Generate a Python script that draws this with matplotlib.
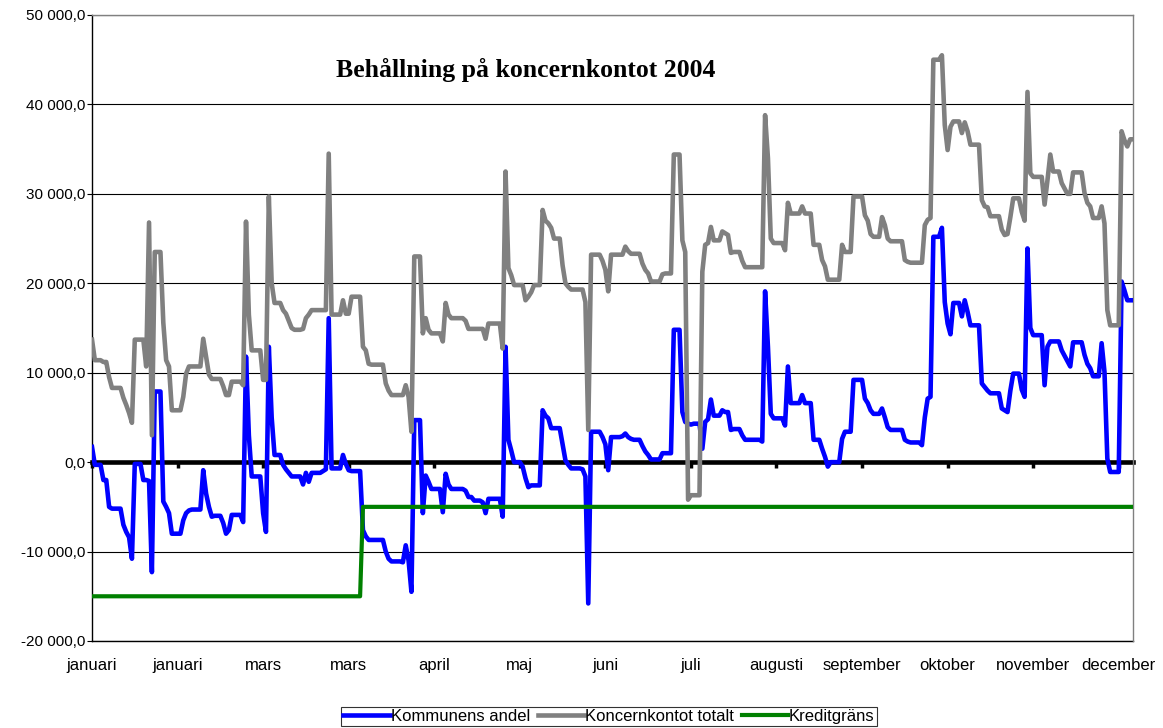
import numpy as np
import matplotlib
matplotlib.use('Agg')
import matplotlib.pyplot as plt
import matplotlib.ticker as mtick

plt.rcParams['font.family'] = ['Liberation Sans', 'DejaVu Sans']

# Daily balances 2004 (one value per day, Jan 1 - Dec 31)
kommun = [
    1700, -300, -300, -300,
    -2000, -2000, -5000, -5200, -5200, -5200, -5200,
    -7000, -7800, -8400, -10800, -200, -200, -200,
    -2000, -2000, -2100, -12300, 7900, 7900, 7900,
    -4400, -5000, -5700, -8000, -8000, -8000, -8000,
    -6500, -5700, -5400, -5300, -5300, -5300, -5300,
    -900, -3500, -5000, -6100, -6000, -6000, -6000,
    -6800, -8000, -7600, -5900, -5900, -5900, -5900,
    -6700, 11800, 3000, -1600, -1600, -1600, -1600,
    -5700, -7800, 12900, 5000, 800, 800, 800,
    -300, -800, -1200, -1600, -1600, -1600, -1600,
    -2500, -1200, -2200, -1200, -1200, -1200, -1200,
    -1000, -800, 16100, -700, -700, -700, -700,
    800, -200, -900, -1000, -1000, -1000, -1000,
    -7600, -8300, -8700, -8700, -8700, -8700, -8700,
    -8700, -10000, -10800, -11100, -11100, -11100, -11100,
    -11200, -9300, -11000, -14500, 4700, 4700, 4700,
    -5700, -1500, -2200, -3000, -3000, -3000, -3000,
    -5600, -1300, -2500, -3000, -3000, -3000, -3000,
    -3000, -3200, -3900, -3900, -4300, -4300, -4300,
    -4500, -5700, -4100, -4100, -4100, -4100, -4100,
    -6100, 12900, 2500, 1300, 0, 0, 0,
    -500, -1800, -2800, -2600, -2600, -2600, -2600,
    5800, 5200, 4900, 3800, 3800, 3800, 3800,
    2000, 200, -300, -700, -700, -700, -700,
    -800, -1600, -15800, 3400, 3400, 3400, 3400,
    2800, 2000, -900, 2800, 2800, 2800, 2800,
    2900, 3200, 2800, 2600, 2500, 2500, 2500,
    1800, 1200, 800, 300, 300, 300, 300,
    1000, 1000, 1000, 1000, 14800, 14800, 14800,
    5600, 4500, 4300, 4200, 4300, 4300, 4300,
    1500, 4500, 4800, 7000, 5200, 5200, 5200,
    5800, 5600, 5600, 3600, 3700, 3700, 3700,
    3000, 2500, 2500, 2500, 2500, 2500, 2500,
    2300, 19100, 12900, 5400, 4900, 4900, 4900,
    4900, 4100, 10700, 6600, 6600, 6600, 6600,
    7500, 6600, 6600, 6600, 2500, 2500, 2500,
    1500, 600, -500, 0, 0, 0, 0,
    2600, 3400, 3400, 3400, 9200, 9200, 9200,
    9200, 7100, 6600, 5800, 5400, 5400, 5400,
    6000, 5000, 3900, 3600, 3600, 3600, 3600,
    3600, 2500, 2300, 2200, 2200, 2200, 2200,
    1900, 5000, 7100, 7300, 25200, 25200, 25200,
    26200, 17900, 15500, 14300, 17800, 17800, 17800,
    16300, 18100, 16800, 15300, 15300, 15300, 15300,
    8800, 8400, 8000, 7700, 7700, 7700, 7700,
    6000, 5800, 5600, 8000, 9900, 9900, 9900,
    8100, 7300, 23900, 15000, 14200, 14200, 14200,
    14200, 8600, 12900, 13500, 13500, 13500, 13500,
    12500, 11900, 11300, 10700, 13400, 13400, 13400,
    13400, 12000, 11000, 10500, 9600, 9600, 9600,
    13300, 10100, 400, -1100, -1100, -1100, -1100,
    20200, 19200, 18100, 18100, 18100,
]

koncern = [
    13700, 11400, 11400, 11400,
    11200, 11200, 9500, 8300, 8300, 8300, 8300,
    7200, 6400, 5500, 4400, 13700, 13700, 13700,
    13700, 10700, 26800, 3000, 23500, 23500, 23500,
    15600, 11400, 10700, 5800, 5800, 5800, 5800,
    7300, 9900, 10700, 10700, 10700, 10700, 10700,
    13800, 11800, 9800, 9300, 9300, 9300, 9300,
    8500, 7500, 7500, 9000, 9000, 9000, 9000,
    8600, 26900, 16500, 12500, 12500, 12500, 12500,
    9200, 9200, 29700, 20000, 17800, 17800, 17800,
    17000, 16600, 15800, 15000, 14800, 14800, 14800,
    14900, 16100, 16500, 17000, 17000, 17000, 17000,
    17000, 17000, 34500, 16500, 16500, 16500, 16500,
    18100, 16600, 16600, 18500, 18500, 18500, 18500,
    12900, 12500, 11000, 10900, 10900, 10900, 10900,
    10900, 8800, 8000, 7500, 7500, 7500, 7500,
    7500, 8600, 7300, 3400, 23000, 23000, 23000,
    14400, 16100, 14800, 14400, 14400, 14400, 14400,
    13500, 17800, 16500, 16100, 16100, 16100, 16100,
    16100, 15800, 14900, 14900, 14900, 14900, 14900,
    14900, 13800, 15500, 15500, 15500, 15500, 15500,
    12700, 32500, 21700, 20900, 19800, 19800, 19800,
    19800, 18100, 18500, 19000, 19800, 19800, 19800,
    28200, 27000, 26700, 26200, 25000, 25000, 25000,
    22000, 20000, 19600, 19300, 19300, 19300, 19300,
    19300, 17900, 3600, 23200, 23200, 23200, 23200,
    22500, 21500, 19100, 23200, 23200, 23200, 23200,
    23200, 24100, 23600, 23300, 23300, 23300, 23300,
    22200, 21500, 21100, 20200, 20200, 20200, 20200,
    21000, 21100, 21100, 21100, 34400, 34400, 34400,
    24800, 23500, -4200, -3700, -3700, -3700, -3700,
    21300, 24300, 24500, 26300, 24800, 24800, 24800,
    25800, 25600, 25400, 23400, 23500, 23500, 23500,
    22500, 21800, 21800, 21800, 21800, 21800, 21800,
    21800, 38800, 34000, 25000, 24500, 24500, 24500,
    24500, 23700, 29000, 27800, 27800, 27800, 27800,
    28600, 27800, 27800, 27800, 24300, 24300, 24300,
    22600, 21900, 20400, 20400, 20400, 20400, 20400,
    24300, 23500, 23500, 23500, 29700, 29700, 29700,
    29700, 27600, 27000, 25500, 25200, 25200, 25200,
    27400, 26500, 25000, 24700, 24700, 24700, 24700,
    24700, 22600, 22400, 22300, 22300, 22300, 22300,
    22300, 26500, 27100, 27300, 45000, 45000, 45000,
    45500, 37700, 34900, 37500, 38100, 38100, 38100,
    36800, 38000, 37000, 35500, 35500, 35500, 35500,
    29300, 28600, 28500, 27500, 27500, 27500, 27500,
    26000, 25400, 25500, 27400, 29500, 29500, 29500,
    28000, 27000, 41400, 32300, 31900, 31900, 31900,
    31900, 28800, 31500, 34400, 32500, 32500, 32500,
    31200, 30600, 30000, 30000, 32400, 32400, 32400,
    32400, 30100, 29000, 28600, 27300, 27300, 27300,
    28600, 26700, 17000, 15300, 15300, 15300, 15300,
    37000, 36000, 35300, 36100, 36100,
]

kredit_days = [0, 94, 95, 365]
kredit = [-15000, -15000, -5000, -5000]

tick_days = [0, 30, 60, 90, 120, 150, 180, 210, 240, 270, 300, 330, 360]
tick_labels = ['januari', 'januari', 'mars', 'mars', 'april', 'maj', 'juni',
               'juli', 'augusti', 'september', 'oktober', 'november', 'december']

days = np.arange(len(kommun))

fig = plt.figure(figsize=(11.63, 7.28), dpi=100)
ax = fig.add_axes([92 / 1163, 1 - 641 / 728, 1041 / 1163, 626 / 728])

ax.plot(days, kommun, color='#0000ff', lw=3.3, zorder=3, label='Kommunens andel')
ax.plot(days, koncern, color='#808080', lw=3.3, zorder=4, label='Koncernkontot totalt')
ax.plot(kredit_days, kredit, color='#008000', lw=3.0, zorder=5, label='Kreditgräns')

ax.set_xlim(0, 365)
ax.set_ylim(-20000, 50000)
ax.yaxis.set_major_locator(mtick.MultipleLocator(10000))
ax.yaxis.set_major_formatter(mtick.FuncFormatter(
    lambda v, p: f'{v:,.1f}'.replace(',', ' ').replace('.', ',')))
ax.yaxis.grid(True, color='black', lw=0.8)
ax.tick_params(axis='y', direction='out', length=3.5, width=0.8, pad=1, labelsize=11)

# category axis crosses at zero
ax.spines['bottom'].set_position(('data', 0))
ax.spines['bottom'].set_linewidth(3.3)
ax.spines['bottom'].set_zorder(2)
ax.set_xticks(tick_days)
ax.tick_params(axis='x', direction='out', length=4, width=2.5, labelbottom=False)
ax.spines['left'].set_linewidth(1.0)
for s in ['top', 'right']:
    ax.spines[s].set_color('#808080')
    ax.spines[s].set_linewidth(1.0)

# labels sit at the bottom of the plot area
low = ax.secondary_xaxis('bottom')
low.set_xticks(tick_days)
low.set_xticklabels(tick_labels)
low.tick_params(length=0, pad=12, labelsize=12)
low.spines['bottom'].set_linewidth(1.0)

ax.text(0.417, 0.912, 'Behållning på koncernkontot 2004', transform=ax.transAxes,
        ha='center', va='center', fontsize=18.5, fontweight='bold',
        family='Liberation Serif')

leg = fig.legend(loc='upper center', bbox_to_anchor=(609 / 1163, 1 - 707 / 728),
                 ncol=3, fontsize=12, frameon=True, fancybox=False,
                 handlelength=2.8, handletextpad=0.05, columnspacing=0.45,
                 borderpad=0.12, borderaxespad=0)
leg.get_frame().set_edgecolor('black')
leg.get_frame().set_linewidth(0.8)

fig.savefig('out.png', dpi=100)
